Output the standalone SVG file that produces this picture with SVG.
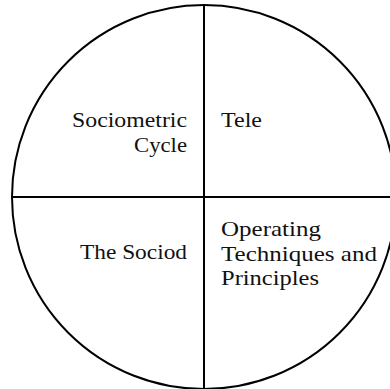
<svg xmlns="http://www.w3.org/2000/svg" width="390" height="389" viewBox="0 0 390 389">
<style>
.l{fill:none;stroke:#000;stroke-width:2}
</style>
<rect width="390" height="389" fill="#fff"/>
<g id="circle"><circle class="l" cx="204" cy="197" r="192"/></g>
<g id="connectors">
<line class="l" x1="204" y1="5" x2="204" y2="389"/>
<line class="l" x1="12" y1="197" x2="390" y2="197"/>
</g>
<g font-family="Liberation Serif, Times New Roman, serif" font-size="21" fill="#111">
<g id="sociometric-cycle" text-anchor="end"><text x="187" y="127" textLength="115" lengthAdjust="spacingAndGlyphs">Sociometric</text><text x="187" y="152" textLength="53" lengthAdjust="spacingAndGlyphs">Cycle</text></g>
<g id="tele"><text x="221" y="127" textLength="41" lengthAdjust="spacingAndGlyphs">Tele</text></g>
<g id="the-sociod" text-anchor="end"><text x="187" y="259" textLength="107" lengthAdjust="spacingAndGlyphs">The Sociod</text></g>
<g id="operating"><text x="221" y="236" textLength="100" lengthAdjust="spacingAndGlyphs">Operating</text><text x="221" y="260.5" textLength="156" lengthAdjust="spacingAndGlyphs">Techniques and</text><text x="221" y="285" textLength="98" lengthAdjust="spacingAndGlyphs">Principles</text></g>
</g>
</svg>
